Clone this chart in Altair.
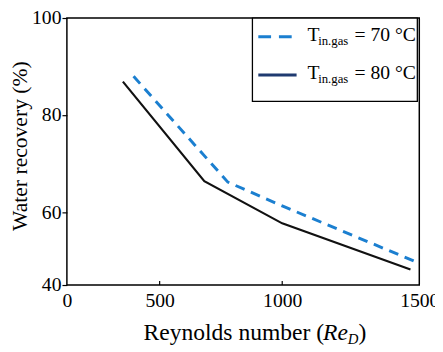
import altair as alt
import pandas as pd

SERIF = "Liberation Serif"

# Reynolds number and water recovery values
re_70 = [381, 787, 1000, 1483]
wr_70 = [88.0, 66.2, 61.3, 49.9]
re_80 = [330, 691, 1000, 1469]
wr_80 = [86.9, 66.4, 57.7, 48.2]

x_ticks = [0, 500, 1000, 1500]
x_inner_ticks = [500, 1000]
y_ticks = [45, 60, 80, 100]

df70 = pd.DataFrame({"re": re_70, "wr": wr_70})
df80 = pd.DataFrame({"re": re_80, "wr": wr_80})
dft = pd.DataFrame({"t": x_inner_ticks})

W, H = 359, 272
xscale = alt.Scale(type="pow", exponent=1.215, domain=[0, 1500], nice=False, zero=False)
yscale = alt.Scale(domain=[45, 100], nice=False, zero=False)

x_axis = alt.Axis(values=x_ticks, format="d", tickSize=0, labelPadding=6,
                  labelFont=SERIF, labelFontSize=20, labelColor="black",
                  labelFlush=False, labelOverlap=False, grid=False, domain=False,
                  title=None)
y_axis = alt.Axis(values=y_ticks, labelExpr="datum.value == 45 ? '40' : datum.label",
                  tickSize=5, tickColor="black", tickWidth=1.2, labelPadding=1,
                  labelFont=SERIF, labelFontSize=20, labelColor="black",
                  labelOverlap=False, grid=False, domain=False,
                  title="Water recovery (%)", titleFont=SERIF, titleFontSize=22,
                  titleFontWeight="normal", titleColor="black",
                  titleX=-36, titleY=130)

X = alt.X("re:Q", scale=xscale, axis=x_axis)
Y = alt.Y("wr:Q", scale=yscale, axis=y_axis)

line80 = alt.Chart(df80).mark_line(color="#111111", strokeWidth=2.2).encode(x=X, y=Y)
line70 = alt.Chart(df70).mark_line(color="#1b7fd0", strokeWidth=3, strokeDash=[10, 7]).encode(x=X, y=Y)
ticks = alt.Chart(dft).mark_rule(color="black", strokeWidth=1.2).encode(
    x=alt.X("t:Q", scale=xscale, axis=x_axis),
    y=alt.value(H), y2=alt.value(H - 4),
)

one = alt.Data(values=[{}])


def txt(s, x, y, size=20, style="normal", align="left"):
    return alt.Chart(one).mark_text(
        text=s, font=SERIF, fontSize=size, fontStyle=style, align=align,
        baseline="alphabetic", color="black"
    ).encode(x=alt.value(x), y=alt.value(y))


legend_box = alt.Chart(one).mark_rect(fill="white", stroke="black", strokeWidth=1.3).encode(
    x=alt.value(189), x2=alt.value(357), y=alt.value(0), y2=alt.value(85)
)
leg_dash = alt.Chart(one).mark_rule(color="#1b7fd0", strokeWidth=3, strokeDash=[13, 8]).encode(
    x=alt.value(195), x2=alt.value(230), y=alt.value(19)
)
leg_solid = alt.Chart(one).mark_rule(color="#1f3a70", strokeWidth=3).encode(
    x=alt.value(195), x2=alt.value(234), y=alt.value(58)
)

layers = [line70, line80, ticks, legend_box, leg_dash, leg_solid]
for base_y, label in [(23, "= 70 °C"), (62, "= 80 °C")]:
    layers += [
        txt("T", 245, base_y, 20),
        txt("in.gas", 256, base_y + 4, 13),
        txt(label, 293, base_y, 20),
    ]

# x-axis title: Reynolds number (Re_D)
layers += [
    txt("Reynolds number (", 262, 328, 24, align="right"),
    txt("Re", 261, 328, 24, style="italic"),
    txt("D", 286, 332, 15, style="italic"),
    txt(")", 297, 328, 24),
]

chart = alt.layer(*layers).properties(
    width=W, height=H,
    autosize=alt.AutoSizeParams(type="none"),
    padding={"left": 60, "top": 7, "right": 16, "bottom": 64},
).configure(
    background="white",
    font=SERIF,
    style={"guide-label": {"font": SERIF}, "guide-title": {"font": SERIF}},
).configure_view(stroke="#000000", strokeWidth=1.5).configure_axis(
    labelFont=SERIF, titleFont=SERIF
)

chart.save("out.html", embed_options={"renderer": "svg", "actions": False})
